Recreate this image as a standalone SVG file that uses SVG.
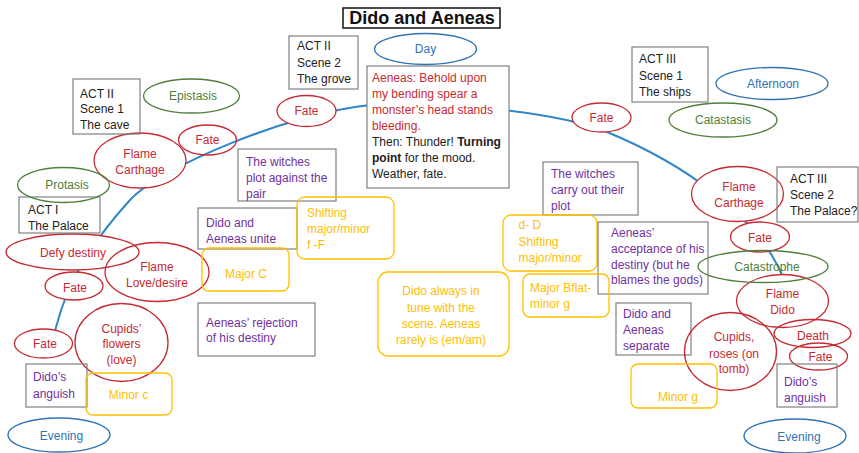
<svg xmlns="http://www.w3.org/2000/svg" width="859" height="453" viewBox="0 0 859 453">
<style>
text{font-family:"Liberation Sans",Arial,sans-serif;font-size:12px}
.t{fill:#222}
.r{fill:#c62a32}
.g{fill:#4f7f3a}
.b{fill:#2e74b5}
.p{fill:#7030a0}
.y{fill:#ffc000}
.m{text-anchor:middle}
.box{fill:none;stroke:#808080;stroke-width:1.2}
.boxw{fill:#fff;stroke:#808080;stroke-width:1.2}
.yb{fill:none;stroke:#ffc000;stroke-width:1.3}
.re{fill:none;stroke:#c62a32;stroke-width:1.3}
.rew{fill:#fff;stroke:#c62a32;stroke-width:1.3}
.ge{fill:none;stroke:#4f7f3a;stroke-width:1.3}
.be{fill:none;stroke:#2e74b5;stroke-width:1.3}
.line{fill:none;stroke:#2f86c8;stroke-width:2}
</style>
<g id="title">
<rect x="343" y="8" width="157" height="20" fill="none" stroke="#111" stroke-width="1.5"/>
<text x="422" y="24" class="m" style="font-size:18px;font-weight:bold;fill:#111">Dido and Aeneas</text>
</g>
<g id="connectors">
<path class="line" d="M52,346 C60,300 80,255 130,200 C160,167 290,113 370,105 C430,99 560,112 607,132 C680,162 760,215 785,282"/>
</g>
<!-- nodes on the arc (white fill) -->
<g id="fate-l3"><ellipse class="rew" cx="43.5" cy="343.5" rx="29" ry="14.5"/><text x="45" y="348" class="r m">Fate</text></g>
<g id="fate-l2"><ellipse class="rew" cx="74" cy="286" rx="29" ry="14"/><text x="75" y="291.5" class="r m">Fate</text></g>
<g id="defy"><ellipse class="rew" cx="72.5" cy="252" rx="66.5" ry="18"/><text x="73" y="256.5" class="r m">Defy destiny</text></g>
<g id="flame-carthage-l"><ellipse class="rew" cx="140" cy="160.5" rx="46" ry="27.5"/><text x="140" y="157.5" class="r m">Flame</text><text x="140" y="173.5" class="r m">Carthage</text></g>
<g id="fate-l1"><ellipse class="re" cx="207.5" cy="140" rx="29" ry="15"/><text x="207.5" y="144" class="r m">Fate</text></g>
<g id="fate-top"><ellipse class="rew" cx="306.5" cy="111" rx="29.5" ry="15.5"/><text x="306.5" y="115" class="r m">Fate</text></g>
<g id="big-box"><rect class="boxw" x="367" y="66" width="142" height="122"/>
<text x="372" y="82" class="r">Aeneas: Behold upon</text>
<text x="372" y="98" class="r">my bending spear a</text>
<text x="372" y="114" class="r">monster’s head stands</text>
<text x="372" y="130" class="r">bleeding.</text>
<text x="372" y="146" class="t">Then: Thunder! <tspan font-weight="bold">Turning</tspan></text>
<text x="372" y="162" class="t"><tspan font-weight="bold">point</tspan> for the mood.</text>
<text x="372" y="178" class="t">Weather, fate.</text></g>
<g id="fate-r1"><ellipse class="rew" cx="601.5" cy="117.5" rx="29.5" ry="14.5"/><text x="601.5" y="121.5" class="r m">Fate</text></g>
<g id="flame-carthage-r"><ellipse class="rew" cx="737.5" cy="194" rx="46" ry="27.5"/><text x="739" y="191" class="r m">Flame</text><text x="739" y="206.5" class="r m">Carthage</text></g>
<g id="fate-r2"><ellipse class="rew" cx="760" cy="237" rx="29.5" ry="15"/><text x="760" y="241.5" class="r m">Fate</text></g>
<g id="flame-dido"><ellipse class="rew" cx="782.5" cy="301" rx="46" ry="26.5"/><text x="782.5" y="298" class="r m">Flame</text><text x="782.5" y="313.5" class="r m">Dido</text></g>
<!-- other nodes -->
<g id="act1"><rect class="box" x="19" y="197" width="81" height="36"/><text x="28" y="214" class="t">ACT I</text><text x="28" y="229.5" class="t">The Palace</text></g>
<g id="protasis"><ellipse class="ge" cx="63.5" cy="185" rx="46" ry="17.5"/><text x="67" y="189" class="g m">Protasis</text></g>
<g id="act2-s1"><rect class="box" x="73" y="79" width="67" height="55"/><text x="80" y="97.5" class="t">ACT II</text><text x="80" y="113" class="t">Scene 1</text><text x="80" y="128.5" class="t">The cave</text></g>
<g id="epistasis"><ellipse class="ge" cx="191.5" cy="96" rx="48" ry="17"/><text x="193" y="100" class="g m">Epistasis</text></g>
<g id="flame-love"><ellipse class="re" cx="157" cy="272" rx="52" ry="29.5"/><text x="157" y="271" class="r m">Flame</text><text x="157" y="286.5" class="r m">Love/desire</text></g>
<g id="cupids-l"><ellipse class="re" cx="121.5" cy="342.5" rx="46.5" ry="39"/><text x="121.5" y="332.5" class="r m">Cupids’</text><text x="121.5" y="348" class="r m">flowers</text><text x="121.5" y="363.5" class="r m">(love)</text></g>
<g id="anguish-l"><rect class="box" x="26" y="364" width="61" height="43"/><text x="33" y="381" class="p">Dido’s</text><text x="33" y="397.5" class="p">anguish</text></g>
<g id="minor-c"><rect class="yb" x="86" y="373" width="86" height="42" rx="7"/><text x="128.5" y="399" class="y m">Minor c</text></g>
<g id="evening-l"><ellipse class="be" cx="59" cy="435" rx="51" ry="17"/><text x="61.5" y="440" class="b m">Evening</text></g>
<g id="act2-s2"><rect class="box" x="289" y="36" width="69" height="53"/><text x="297" y="50" class="t">ACT II</text><text x="297" y="66.5" class="t">Scene 2</text><text x="297" y="82.5" class="t">The grove</text></g>
<g id="day"><ellipse class="be" cx="425.5" cy="49" rx="51" ry="15.5"/><text x="425.5" y="53" class="b m">Day</text></g>
<g id="witches-l"><rect class="box" x="238" y="149" width="98" height="52"/><text x="246" y="165.5" class="p">The witches</text><text x="246" y="181.5" class="p">plot against the</text><text x="246" y="197.5" class="p">pair</text></g>
<g id="unite"><rect class="box" x="198" y="208" width="99" height="41"/><text x="206" y="226.5" class="p">Dido and</text><text x="206" y="243" class="p">Aeneas unite</text></g>
<g id="shifting-l"><rect class="yb" x="297" y="197" width="97" height="62" rx="8"/><text x="307" y="216.5" class="y">Shifting</text><text x="307" y="233" class="y">major/minor</text><text x="307" y="248.5" class="y">f -F</text></g>
<g id="major-c"><rect class="yb" x="202" y="248" width="87" height="43" rx="7"/><text x="246" y="277.5" class="y m">Major C</text></g>
<g id="rejection"><rect class="box" x="198" y="303" width="117" height="53"/><text x="206" y="327" class="p">Aeneas’ rejection</text><text x="206" y="342" class="p">of his destiny</text></g>
<g id="dido-always"><rect class="yb" x="378" y="272" width="131" height="84" rx="10"/><text x="441" y="295" class="y m">Dido always in</text><text x="441" y="311.5" class="y m">tune with the</text><text x="441" y="327.5" class="y m">scene. Aeneas</text><text x="441" y="343.5" class="y m">rarely is (em/am)</text></g>
<g id="act3-s1"><rect class="box" x="632" y="47" width="76" height="55"/><text x="639" y="63" class="t">ACT III</text><text x="639" y="79.5" class="t">Scene 1</text><text x="639" y="96" class="t">The ships</text></g>
<g id="afternoon"><ellipse class="be" cx="772" cy="83.5" rx="56" ry="16"/><text x="773" y="87.5" class="b m">Afternoon</text></g>
<g id="catastasis"><ellipse class="ge" cx="723" cy="120" rx="54" ry="17"/><text x="723" y="124" class="g m">Catastasis</text></g>
<g id="witches-r"><rect class="box" x="543" y="162" width="95" height="53"/><text x="551" y="177.5" class="p">The witches</text><text x="551" y="194" class="p">carry out their</text><text x="551" y="210" class="p">plot</text></g>
<g id="act3-s2"><rect class="box" x="777" y="167" width="81" height="55"/><text x="790" y="182.5" class="t">ACT III</text><text x="790" y="198.5" class="t">Scene 2</text><text x="790" y="215" class="t">The Palace?</text></g>
<g id="catastrophe"><ellipse class="ge" cx="763" cy="266.5" rx="65" ry="16"/><text x="767" y="270.5" class="g m">Catastrophe</text></g>
<g id="d-shifting"><rect class="yb" x="503" y="215" width="94" height="56" rx="8"/><text x="518.5" y="229" class="y">d- D</text><text x="518.5" y="245.5" class="y">Shifting</text><text x="518.5" y="261.5" class="y">major/minor</text></g>
<g id="acceptance"><rect class="box" x="598" y="222" width="110" height="72"/><text x="611" y="236.5" class="p">Aeneas’</text><text x="611" y="253" class="p">acceptance of his</text><text x="611" y="268.5" class="p">destiny (but he</text><text x="611" y="284" class="p">blames the gods)</text></g>
<g id="major-bflat"><rect class="yb" x="523" y="274" width="86" height="43" rx="7"/><text x="530" y="291.5" class="y">Major Bflat-</text><text x="530" y="308" class="y">minor g</text></g>
<g id="separate"><rect class="box" x="616" y="303" width="75" height="52"/><text x="623" y="318" class="p">Dido and</text><text x="623" y="334" class="p">Aeneas</text><text x="623" y="350" class="p">separate</text></g>
<g id="cupids-r"><ellipse class="re" cx="730.5" cy="351.5" rx="46" ry="39"/><text x="734" y="341" class="r m">Cupids,</text><text x="734" y="357.5" class="r m">roses (on</text><text x="734" y="372.5" class="r m">tomb)</text></g>
<g id="death"><ellipse class="re" cx="812.5" cy="333.5" rx="38.5" ry="14"/><text x="813" y="339.5" class="r m">Death</text></g>
<g id="fate-r3"><ellipse class="re" cx="818.5" cy="356.5" rx="29" ry="13.5"/><text x="820.5" y="361" class="r m">Fate</text></g>
<g id="anguish-r"><rect class="box" x="777" y="364" width="60" height="43"/><text x="784" y="385.5" class="p">Dido’s</text><text x="784" y="401.5" class="p">anguish</text></g>
<g id="minor-g"><rect class="yb" x="631" y="364" width="86" height="44" rx="7"/><text x="678" y="401" class="y m">Minor g</text></g>
<g id="evening-r"><ellipse class="be" cx="795" cy="436" rx="51" ry="17"/><text x="799" y="440.5" class="b m">Evening</text></g>
</svg>
